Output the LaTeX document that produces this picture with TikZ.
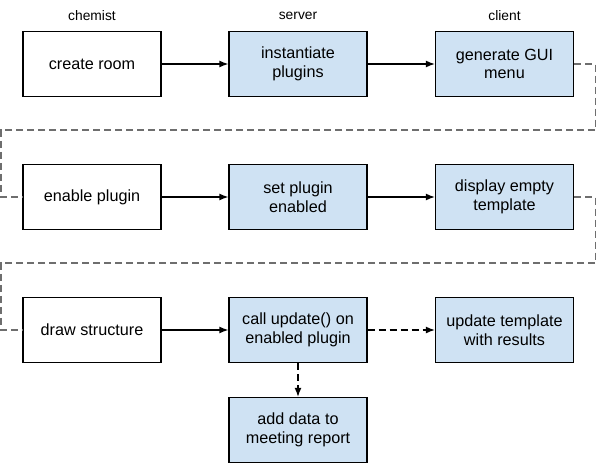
\documentclass[tikz,border=0pt]{standalone}
\usepackage{fontspec}
\setmainfont{Liberation Sans}
\usepackage{xcolor}
\usetikzlibrary{arrows.meta}

\definecolor{boxblue}{HTML}{CFE2F3}
\definecolor{loopgray}{HTML}{6E6E6E}

\begin{document}
\begin{tikzpicture}[x=1pt, y=-1pt,
    stage/.style={draw=black, line width=1.3pt, minimum width=138pt, minimum height=65pt,
      align=center, font=\fontsize{16.2}{18.5}\selectfont, inner sep=2pt},
    work/.style={stage, fill=boxblue},
    head/.style={font=\fontsize{13.8}{16}\selectfont},
    flow/.style={line width=1.3pt, -{Latex[length=9pt,width=7pt]}},
    later/.style={flow, dash pattern=on 7pt off 4pt},
    wrap/.style={draw=loopgray, line width=1.4pt, dash pattern=on 7pt off 4pt}]
  \useasboundingbox (0,0) rectangle (597,464);

  % column titles
  \node[head] (tchem) at (92,16) {chemist};
  \node[head] (tserv) at (298,16) {server};
  \node[head] (tclient) at (504.5,16) {client};

  % first row
  \node[stage] (room) at (92,64) {create room};
  \node[work] (inst) at (298,64) {instantiate\\plugins};
  \node[work] (menu) at (504.5,64) {generate GUI\\menu};

  % second row
  \node[stage] (enable) at (92,197) {enable plugin};
  \node[work] (setp) at (298,197) {set plugin\\enabled};
  \node[work] (empty) at (504.5,197) {display empty\\template};

  % third row
  \node[stage] (struct) at (92,330) {draw structure};
  \node[work] (call) at (298,330) {call update() on\\enabled plugin};
  \node[work] (results) at (504.5,330) {update template\\with results};
  \node[work] (report) at (298,430) {add data to\\meeting report};

  % arrows
  \draw[flow] (room) -- (inst);
  \draw[flow] (inst) -- (menu);
  \draw[flow] (enable) -- (setp);
  \draw[flow] (setp) -- (empty);
  \draw[flow] (struct) -- (call);
  \draw[later] (call) -- (results);
  \draw[later] (call) -- (report);

  % dashed returns to next row
  \draw[wrap] (menu.east) -- ++(21.5,0) |- (1,130) |- (enable.west);
  \draw[wrap] (empty.east) -- ++(21.5,0) |- (1,263) |- (struct.west);
\end{tikzpicture}
\end{document}
